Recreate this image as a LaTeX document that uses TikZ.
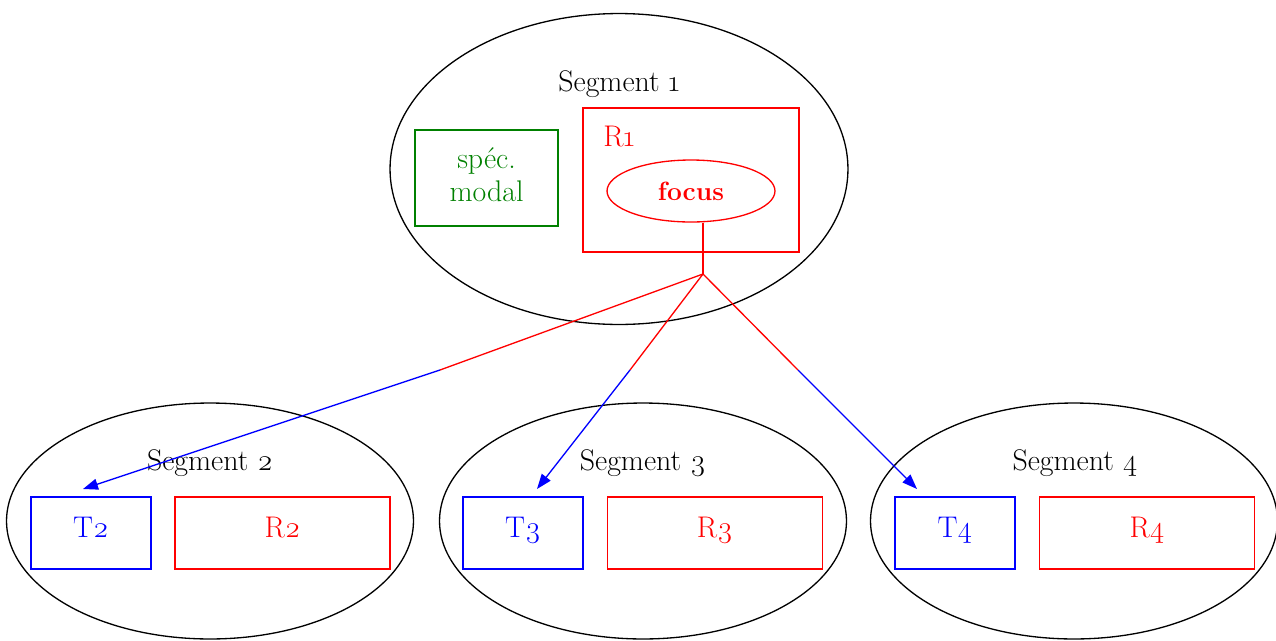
\documentclass[tikz,border=0pt]{standalone}
\usepackage{fontspec}
\setmainfont{Latin Modern Roman}[Numbers=OldStyle]
\usepackage{xcolor}
\usepackage{tikz}
\usetikzlibrary{shapes.geometric,arrows.meta,positioning}
\definecolor{modalgreen}{HTML}{008000}

\begin{document}
\begin{tikzpicture}[x=0.02cm,y=-0.02cm,font=\fontsize{17}{20}\selectfont,
    seg/.style={draw,ellipse,line width=0.75pt,inner sep=0pt},
    box/.style={draw,rectangle,line width=0.75pt,inner sep=0pt},
    slot/.style={box,text depth=6.5pt,minimum height=1.44cm},
    wire/.style={draw=red,line width=0.75pt},
    link/.style={draw=blue,line width=0.75pt,-{Triangle[length=0.3cm,width=0.22cm]}}]
    \useasboundingbox (0,0) rectangle (1276,640);
    %\draw[help lines] (0,0) grid[step=100] (1276,640);
            % top segment
            \node[seg,minimum width=9.16cm,minimum height=6.22cm] (seg1) at (619,169) {};
            \node (seg1lbl) at (619,84) {Segment 1};
            \node[box,draw=modalgreen,text=modalgreen,align=center,text depth=4pt,minimum width=2.86cm,minimum height=1.92cm] (modal) at (486.5,178) {spéc.\\[-1pt]modal};
            \node[box,red,minimum width=4.32cm,minimum height=2.88cm] (r1) at (691,180) {};
            \node[red] (r1lbl) at (619,137) {R1};
            \node[seg,red,minimum width=3.36cm,minimum height=1.24cm,font=\fontsize{15}{18}\selectfont\bfseries] (focus) at (691,191) {focus};
            % lower segments
            \node[seg,minimum width=8.14cm,minimum height=4.72cm] (seg2) at (210,521) {};
            \node[seg,minimum width=8.14cm,minimum height=4.72cm] (seg3) at (643,521) {};
            \node[seg,minimum width=8.14cm,minimum height=4.72cm] (seg4) at (1074,521) {};
            \node (seg2lbl) at (210,463) {Segment 2};
            \node (seg3lbl) at (643,463) {Segment 3};
            \node (seg4lbl) at (1075,463) {Segment 4};
            \node[slot,blue,minimum width=2.4cm] (t2) at (91,533) {T2};
            \node[slot,red,minimum width=4.3cm] (r2) at (282.5,533) {R2};
            \node[slot,blue,minimum width=2.4cm] (t3) at (523,533) {T3};
            \node[slot,red,minimum width=4.3cm] (r3) at (715,533) {R3};
            \node[slot,blue,minimum width=2.4cm] (t4) at (955,533) {T4};
            \node[slot,red,minimum width=4.3cm] (r4) at (1147,533) {R4};
            % links from the focus
            \coordinate (hub) at (703,274);
            \coordinate (mid2) at (440,370);
            \coordinate (mid3) at (630,370);
            \coordinate (mid4) at (798,370);
            \coordinate (end2) at (83,489);
            \coordinate (end3) at (537,489);
            \coordinate (end4) at (917,489);
            \draw[wire] (focus.south -| hub)--(hub);
            \draw[wire] (hub)--(mid2);
            \draw[wire] (hub)--(mid3);
            \draw[wire] (hub)--(mid4);
            \draw[link] (mid2)--(end2);
            \draw[link] (mid3)--(end3);
            \draw[link] (mid4)--(end4);
\end{tikzpicture}
\end{document}
